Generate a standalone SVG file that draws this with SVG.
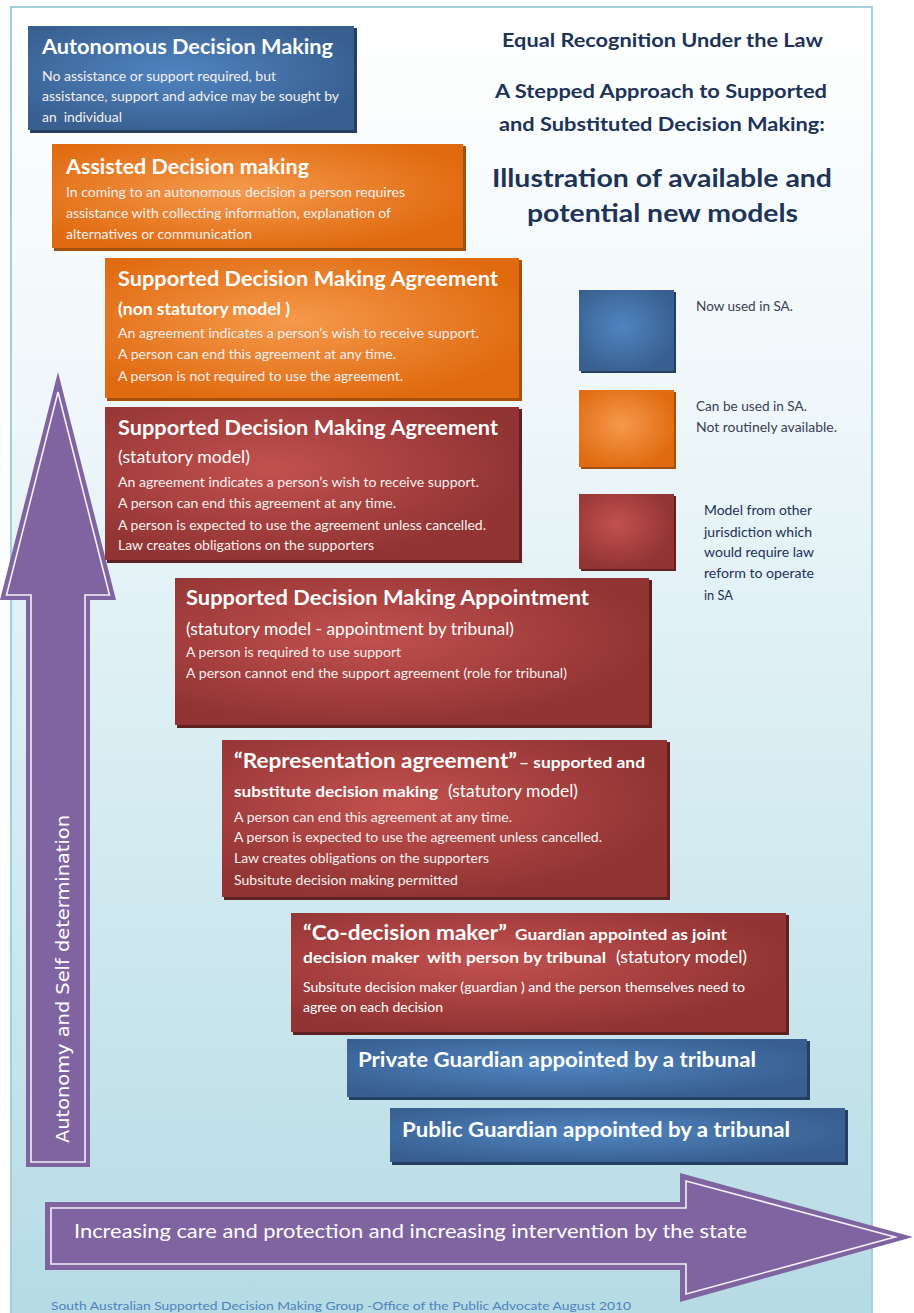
<svg xmlns="http://www.w3.org/2000/svg" width="914" height="1313" viewBox="0 0 914 1313">
<defs>
<linearGradient id="bg" x1="0" y1="0" x2="0" y2="1">
<stop offset="0" stop-color="#ffffff"/>
<stop offset="0.3" stop-color="#eff7fa"/>
<stop offset="0.6" stop-color="#d6ecf2"/>
<stop offset="1" stop-color="#b5dbe5"/>
</linearGradient>
<radialGradient id="gBlue" cx="0.45" cy="0.45" r="0.6">
<stop offset="0" stop-color="#5084c0"/>
<stop offset="1" stop-color="#385f90"/>
</radialGradient>
<radialGradient id="gOrange" cx="0.45" cy="0.45" r="0.6">
<stop offset="0" stop-color="#f5994c"/>
<stop offset="1" stop-color="#e06a0f"/>
</radialGradient>
<radialGradient id="gRed" cx="0.4" cy="0.4" r="0.6">
<stop offset="0" stop-color="#c2514e"/>
<stop offset="1" stop-color="#923434"/>
</radialGradient>
<style>
text{white-space:pre}
.t{font-family:Lato,"Open Sans","Liberation Sans",sans-serif;fill:#ffffff}
.b{font-weight:bold}
.h{font-size:21px;font-weight:bold}
.s{font-size:14px;fill:#f6f0f0}
.leg{font-family:Lato,"Open Sans","Liberation Sans",sans-serif;font-size:12.5px;fill:#3a3f55}
.legn{font-family:Lato,"Open Sans","Liberation Sans",sans-serif;font-size:12.5px;fill:#22305a}
.ttl{font-family:Lato,"Open Sans","Liberation Sans",sans-serif;font-weight:bold;fill:#1d3358}
.shB{fill:#243f61}
.shO{fill:#a5500c}
.shR{fill:#5e2120}
.arr{fill:#8064a2}
.arrIn{fill:none;stroke:#ffffff;stroke-width:1.6;stroke-opacity:0.9}
</style>
</defs>

<rect x="0" y="0" width="914" height="1313" fill="#ffffff"/>
<rect id="panel" x="11" y="7" width="861" height="1310" fill="url(#bg)" stroke="#9fd0dc" stroke-width="2"/>

<g id="title">
<text class="ttl" x="502" y="47" font-size="18" textLength="321" lengthAdjust="spacingAndGlyphs">Equal Recognition Under the Law</text>
<text class="ttl" x="495" y="98" font-size="18" textLength="332" lengthAdjust="spacingAndGlyphs">A Stepped Approach to Supported</text>
<text class="ttl" x="499" y="131" font-size="18" textLength="326" lengthAdjust="spacingAndGlyphs">and Substituted Decision Making:</text>
<text class="ttl" x="492" y="187" font-size="25" textLength="340" lengthAdjust="spacingAndGlyphs">Illustration of available and</text>
<text class="ttl" x="527" y="222" font-size="25" textLength="271" lengthAdjust="spacingAndGlyphs">potential new models</text>
</g>

<g id="connectors">
<g id="arrow-autonomy">
<path class="arr" d="M58,372 L116,600 L90,600 L90,1167 L26,1167 L26,600 L0,600 Z"/>
<path class="arrIn" d="M58,392 L109.5,595 L85,595 L85,1162 L31,1162 L31,595 L6.5,595 Z"/>
<text transform="translate(69,1143) rotate(-90)" x="0" y="0" font-family="'DejaVu Sans',Verdana,sans-serif" font-size="18" fill="#ffffff" textLength="328" lengthAdjust="spacingAndGlyphs">Autonomy and Self determination</text>
</g>
<g id="arrow-intervention">
<path class="arr" d="M45,1202 L680,1202 L680,1173 L913,1237 L680,1302 L680,1270 L45,1270 Z"/>
<path class="arrIn" d="M51,1208 L686,1208 L686,1181 L895,1237 L686,1294 L686,1264 L51,1264 Z"/>
<text class="t" x="74" y="1238" font-size="19" textLength="673" lengthAdjust="spacingAndGlyphs">Increasing care and protection and increasing intervention by the state</text>
</g>
</g>

<g id="autonomous">
<rect class="shB" x="30" y="28" width="327" height="105"/>
<rect x="28" y="26" width="326" height="104" fill="url(#gBlue)"/>
<text class="t h" x="42" y="54" textLength="291" lengthAdjust="spacingAndGlyphs">Autonomous Decision Making</text>
<text class="t s" x="42" y="81" textLength="234" lengthAdjust="spacingAndGlyphs">No assistance or support required, but</text>
<text class="t s" x="42" y="101" textLength="297" lengthAdjust="spacingAndGlyphs">assistance, support and advice may be sought by</text>
<text class="t s" x="42" y="122" textLength="80" lengthAdjust="spacingAndGlyphs">an  individual</text>
</g>

<g id="assisted">
<rect class="shO" x="54" y="146" width="412" height="105"/>
<rect x="52" y="144" width="411" height="104" fill="url(#gOrange)"/>
<text class="t h" x="66" y="174" textLength="243" lengthAdjust="spacingAndGlyphs">Assisted Decision making</text>
<text class="t s" x="66" y="197" textLength="339" lengthAdjust="spacingAndGlyphs">In coming to an autonomous decision a person requires</text>
<text class="t s" x="66" y="218" textLength="325" lengthAdjust="spacingAndGlyphs">assistance with collecting information, explanation of</text>
<text class="t s" x="66" y="239" textLength="186" lengthAdjust="spacingAndGlyphs">alternatives or communication</text>
</g>

<g id="sdma-nonstatutory">
<rect class="shO" x="107" y="260" width="415" height="141"/>
<rect x="105" y="258" width="414" height="140" fill="url(#gOrange)"/>
<text class="t h" x="118" y="286" textLength="380" lengthAdjust="spacingAndGlyphs">Supported Decision Making Agreement</text>
<text class="t b" x="118" y="315" font-size="17" textLength="172" lengthAdjust="spacingAndGlyphs">(non statutory model )</text>
<text class="t s" x="118" y="338" textLength="361" lengthAdjust="spacingAndGlyphs">An agreement indicates a person’s wish to receive support.</text>
<text class="t s" x="118" y="359" textLength="278" lengthAdjust="spacingAndGlyphs">A person can end this agreement at any time.</text>
<text class="t s" x="118" y="381" textLength="285" lengthAdjust="spacingAndGlyphs">A person is not required to use the agreement.</text>
</g>

<g id="sdma-statutory">
<rect class="shR" x="107" y="409" width="415" height="154"/>
<rect x="105" y="407" width="414" height="153" fill="url(#gRed)"/>
<text class="t h" x="118" y="435" textLength="380" lengthAdjust="spacingAndGlyphs">Supported Decision Making Agreement</text>
<text class="t" x="118" y="463" font-size="18" textLength="132" lengthAdjust="spacingAndGlyphs">(statutory model)</text>
<text class="t s" x="118" y="487" textLength="361" lengthAdjust="spacingAndGlyphs">An agreement indicates a person’s wish to receive support.</text>
<text class="t s" x="118" y="508" textLength="278" lengthAdjust="spacingAndGlyphs">A person can end this agreement at any time.</text>
<text class="t s" x="118" y="530" textLength="368" lengthAdjust="spacingAndGlyphs">A person is expected to use the agreement unless cancelled.</text>
<text class="t s" x="118" y="550" textLength="256" lengthAdjust="spacingAndGlyphs">Law creates obligations on the supporters</text>
</g>

<g id="sdm-appointment">
<rect class="shR" x="177" y="580" width="475" height="148"/>
<rect x="175" y="578" width="474" height="147" fill="url(#gRed)"/>
<text class="t h" x="186" y="605" textLength="403" lengthAdjust="spacingAndGlyphs">Supported Decision Making Appointment</text>
<text class="t" x="186" y="635" font-size="18" textLength="328" lengthAdjust="spacingAndGlyphs">(statutory model - appointment by tribunal)</text>
<text class="t s" x="186" y="657" textLength="215" lengthAdjust="spacingAndGlyphs">A person is required to use support</text>
<text class="t s" x="186" y="678" textLength="381" lengthAdjust="spacingAndGlyphs">A person cannot end the support agreement (role for tribunal)</text>
</g>

<g id="representation-agreement">
<rect class="shR" x="224" y="742" width="446" height="158"/>
<rect x="222" y="740" width="445" height="157" fill="url(#gRed)"/>
<text class="t h" x="234" y="768" textLength="283" lengthAdjust="spacingAndGlyphs">“Representation agreement”</text>
<text class="t b" x="519" y="768" font-size="15" textLength="126" lengthAdjust="spacingAndGlyphs">– supported and</text>
<text class="t b" x="234" y="797" font-size="15" textLength="204" lengthAdjust="spacingAndGlyphs">substitute decision making</text>
<text class="t" x="448" y="797" font-size="17" textLength="130" lengthAdjust="spacingAndGlyphs">(statutory model)</text>
<text class="t s" x="234" y="822" textLength="278" lengthAdjust="spacingAndGlyphs">A person can end this agreement at any time.</text>
<text class="t s" x="234" y="842" textLength="368" lengthAdjust="spacingAndGlyphs">A person is expected to use the agreement unless cancelled.</text>
<text class="t s" x="234" y="863" textLength="255" lengthAdjust="spacingAndGlyphs">Law creates obligations on the supporters</text>
<text class="t s" x="234" y="885" textLength="224" lengthAdjust="spacingAndGlyphs">Subsitute decision making permitted</text>
</g>

<g id="co-decision-maker">
<rect class="shR" x="293" y="915" width="496" height="120"/>
<rect x="291" y="913" width="495" height="119" fill="url(#gRed)"/>
<text class="t h" x="303" y="940" textLength="204" lengthAdjust="spacingAndGlyphs">“Co-decision maker”</text>
<text class="t b" x="515" y="940" font-size="15" textLength="212" lengthAdjust="spacingAndGlyphs">Guardian appointed as joint</text>
<text class="t b" x="303" y="963" font-size="15" textLength="303" lengthAdjust="spacingAndGlyphs">decision maker  with person by tribunal</text>
<text class="t" x="616" y="963" font-size="17" textLength="131" lengthAdjust="spacingAndGlyphs">(statutory model)</text>
<text class="t" x="303" y="992" font-size="12.5" fill="#f6f0f0" textLength="442" lengthAdjust="spacingAndGlyphs">Subsitute decision maker (guardian ) and the person themselves need to</text>
<text class="t" x="303" y="1012" font-size="12.5" fill="#f6f0f0" textLength="140" lengthAdjust="spacingAndGlyphs">agree on each decision</text>
</g>

<g id="private-guardian">
<rect class="shB" x="349" y="1041" width="461" height="59"/>
<rect x="347" y="1039" width="460" height="58" fill="url(#gBlue)"/>
<text class="t b" x="358" y="1067" font-size="20" textLength="398" lengthAdjust="spacingAndGlyphs">Private Guardian appointed by a tribunal</text>
</g>

<g id="public-guardian">
<rect class="shB" x="392" y="1110" width="456" height="55"/>
<rect x="390" y="1108" width="455" height="54" fill="url(#gBlue)"/>
<text class="t b" x="402" y="1137" font-size="20" textLength="388" lengthAdjust="spacingAndGlyphs">Public Guardian appointed by a tribunal</text>
</g>

<g id="legend">
<g id="legend-blue">
<rect class="shB" x="581" y="292" width="95" height="81"/>
<rect x="579" y="290" width="95" height="81" fill="url(#gBlue)"/>
<text class="leg" x="696" y="311" textLength="97" lengthAdjust="spacingAndGlyphs">Now used in SA.</text>
</g>
<g id="legend-orange">
<rect class="shO" x="581" y="392" width="95" height="77"/>
<rect x="579" y="390" width="95" height="77" fill="url(#gOrange)"/>
<text class="leg" x="696" y="411" textLength="111" lengthAdjust="spacingAndGlyphs">Can be used in SA.</text>
<text class="leg" x="696" y="432" textLength="141" lengthAdjust="spacingAndGlyphs">Not routinely available.</text>
</g>
<g id="legend-red">
<rect class="shR" x="581" y="496" width="95" height="75"/>
<rect x="579" y="494" width="95" height="75" fill="url(#gRed)"/>
<text class="legn" x="704" y="515" textLength="108" lengthAdjust="spacingAndGlyphs">Model from other</text>
<text class="legn" x="704" y="537" textLength="108" lengthAdjust="spacingAndGlyphs">jurisdiction which</text>
<text class="legn" x="704" y="557" textLength="110" lengthAdjust="spacingAndGlyphs">would require law</text>
<text class="legn" x="704" y="578" textLength="110" lengthAdjust="spacingAndGlyphs">reform to operate</text>
<text class="legn" x="704" y="600" textLength="29" lengthAdjust="spacingAndGlyphs">in SA</text>
</g>
</g>

<text id="footer" x="51" y="1310" font-family="Lato,'Open Sans','Liberation Sans',sans-serif" font-size="12" fill="#4f81bd" textLength="580" lengthAdjust="spacingAndGlyphs">South Australian Supported Decision Making Group -Office of the Public Advocate August 2010</text>
</svg>
